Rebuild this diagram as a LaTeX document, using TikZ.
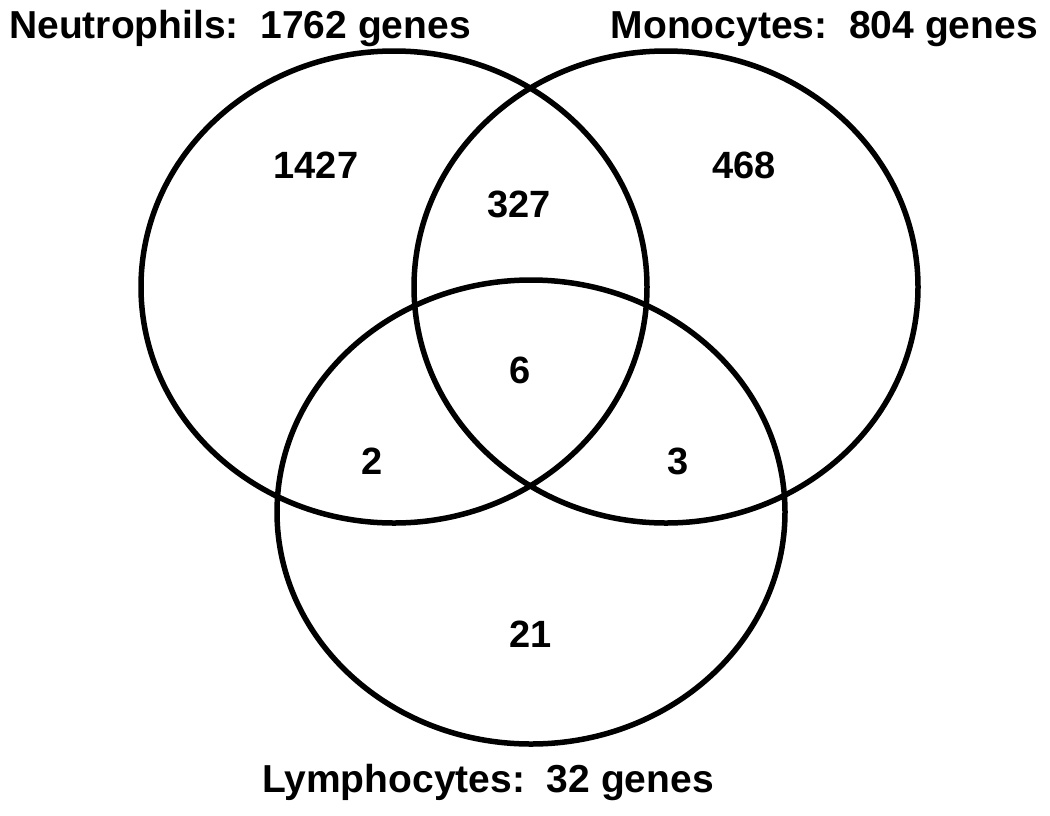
\documentclass[tikz,border=0pt]{standalone}
\usepackage{fontspec}
\setmainfont{Liberation Sans}
\begin{document}
\begin{tikzpicture}[x=1pt,y=-1pt,
  setline/.style={draw=black,line width=5.5pt},
  lbl/.style={font=\fontsize{39}{45}\selectfont\bfseries,inner sep=0pt,anchor=base},
  num/.style={font=\fontsize{38}{44}\selectfont\bfseries,inner sep=0pt,anchor=base}]
\useasboundingbox[fill=white] (0,0) rectangle (1050,815);
\draw[setline] (394,287) ellipse [x radius=253, y radius=236];
\draw[setline] (666,287) ellipse [x radius=252, y radius=236];
\draw[setline] (531,512) ellipse [x radius=254, y radius=232];
\node[lbl,anchor=base west] (neu) at (9,38) {Neutrophils:\ \ 1762 genes};
\node[lbl,anchor=base east] (mono) at (1038,38) {Monocytes:\ \ 804 genes};
\node[lbl] (lym) at (488,792) {Lymphocytes:\ \ 32 genes};
\node[num] (n1427) at (316,178) {1427};
\node[num] (n468) at (744,178) {468};
\node[num] (n327) at (519,217) {327};
\node[num] (n6) at (520,383) {6};
\node[num] (n2) at (372,474) {2};
\node[num] (n3) at (678,474) {3};
\node[num] (n21) at (531,647) {21};
\end{tikzpicture}
\end{document}
